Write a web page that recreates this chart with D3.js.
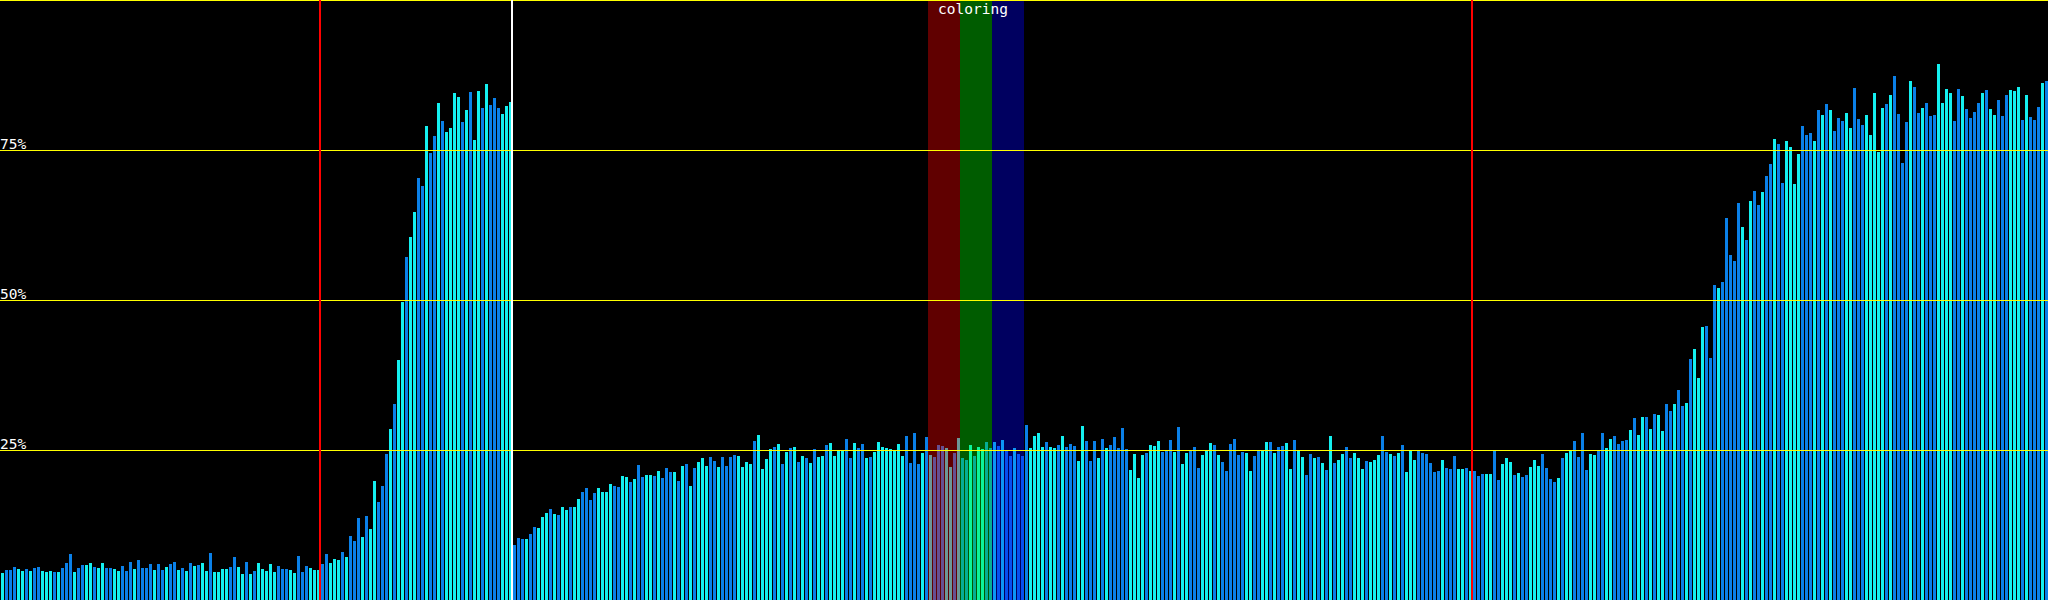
<!DOCTYPE html>
<html>
<head>
<meta charset="utf-8">
<script src="https://cdn.jsdelivr.net/npm/d3@7"></script>
<style>
html,body{margin:0;padding:0;background:#000;overflow:hidden;}
svg{display:block;}
</style>
</head>
<body>
<svg id="chart" width="2048" height="600"></svg>
<script>
// bar values (percent), one per bar, left to right
const values = [
4.5,5.0,5.0,5.5,5.2,4.8,5.2,4.8,5.3,5.5,4.8,4.7,4.8,4.7,4.7,5.3,6.2,7.7,4.7,5.3,
5.8,5.8,6.2,5.5,5.3,6.2,5.3,5.3,5.2,4.8,5.7,4.8,6.3,5.2,6.7,5.3,5.3,6.0,5.0,6.0,
5.0,5.5,6.0,6.3,5.0,5.3,4.8,6.2,5.7,5.8,6.2,4.8,7.8,4.7,4.7,5.2,5.2,5.5,7.2,5.5,
4.3,6.3,4.3,4.8,6.2,5.2,4.8,6.0,4.7,5.7,5.2,5.2,5.0,4.5,7.3,4.7,5.7,5.3,5.0,5.0,
6.0,7.7,6.2,6.8,6.7,8.0,7.2,10.7,9.8,13.7,10.5,14.0,11.8,19.9,16.4,19.0,24.4,28.5,32.7,40.0,
49.7,57.2,60.5,64.7,70.3,69.0,79.0,74.5,77.3,82.8,79.8,78.0,78.7,84.5,83.9,79.7,81.7,84.7,76.7,84.8,
82.0,86.0,82.5,83.7,82.0,81.0,82.3,83.0,
9.2,10.4,10.2,10.2,11.0,12.2,12.0,13.8,14.5,15.2,14.3,14.2,15.5,15.0,15.5,15.5,16.8,18.0,18.7,16.7,
17.8,18.7,18.0,18.0,19.3,19.0,18.8,20.7,20.5,19.7,20.2,22.5,20.5,20.8,20.8,20.7,21.5,20.3,22.0,21.3,
21.3,19.8,22.3,22.7,19.0,22.0,23.0,23.7,22.3,23.8,23.2,22.2,23.8,22.3,23.8,24.2,24.0,22.2,23.0,22.7,
26.5,27.5,21.8,23.5,25.2,25.5,26.0,22.7,24.7,25.3,25.5,23.0,24.0,23.7,22.8,25.2,23.8,24.0,25.8,26.2,
24.0,24.8,24.8,26.8,23.7,
26.2,25.3,26.0,23.7,23.8,24.7,26.3,25.5,25.3,25.2,25.0,26.0,24.0,27.3,22.8,27.8,22.7,24.5,27.2,
24.2,23.8,25.8,25.7,25.3,22.2,24.5,27.0,23.7,23.3,25.8,24.0,25.5,25.2,26.3,25.3,26.3,25.7,26.7,24.8,
24.0,25.3,24.3,24.0,29.2,25.3,27.3,27.8,25.5,26.3,25.5,25.3,25.8,27.3,25.5,26.0,25.7,23.2,29.0,26.5,
23.2,26.5,23.7,26.8,25.3,25.8,27.2,25.3,28.7,25.2,21.7,24.3,20.3,24.2,24.5,25.8,25.7,26.5,24.7,25.0,
26.7,24.7,28.8,22.7,24.5,
24.8,25.5,22.0,24.2,24.8,26.2,25.8,24.2,23.0,21.5,26.0,26.8,24.2,24.7,24.5,21.5,24.0,24.8,25.0,26.3,
26.3,24.5,25.5,25.7,26.2,21.8,26.7,24.8,23.8,20.8,24.3,23.7,23.8,22.8,21.7,27.3,22.8,23.3,24.3,25.5,
23.7,24.5,23.7,21.8,23.2,23.0,23.3,24.2,27.3,24.7,24.3,24.0,24.5,25.8,21.3,24.8,23.3,24.8,24.5,24.3,
22.8,21.3,21.5,23.3,22.0,21.8,24.0,21.8,21.8,22.0,21.5,21.5,20.7,21.0,21.0,21.0,24.8,20.0,22.7,23.7,
23.0,20.8,21.2,20.5,
20.8,22.2,23.3,22.3,24.3,22.0,20.2,19.7,20.3,23.7,24.5,24.8,26.5,23.8,27.8,21.7,24.3,24.2,24.8,27.8,
25.3,26.8,27.3,26.0,26.5,26.7,28.3,30.3,27.5,30.5,30.5,28.5,31.0,30.8,28.2,32.7,31.5,32.7,35.0,32.3,
32.8,40.2,41.8,37.0,45.5,45.7,40.3,52.5,52.0,53.0,63.7,57.5,56.5,66.2,62.2,60.0,66.5,68.2,65.8,68.0,
70.7,72.7,76.8,76.0,69.5,76.5,75.5,69.3,74.3,79.0,77.5,77.8,76.5,81.7,80.8,82.7,81.7,78.2,80.3,79.8,
81.2,78.7,85.3,80.2,79.2,80.8,77.5,84.5,74.7,82.0,82.7,84.2,87.3,81.0,72.8,79.7,86.5,85.5,81.2,82.0,
82.8,80.7,80.8,89.3,82.8,85.2,84.5,79.8,85.2,84.0,81.8,80.3,81.3,82.8,84.5,85.0,81.8,80.8,83.3,80.7,
84.2,85.0,84.8,85.5,80.0,84.2,80.5,80.0,82.2,86.2,86.5
];
// colour class of each bar: c = cyan, b = blue
const colors = [
// 0-127
"c","b","b","b","c","c","b","c","b","b","c","c","c","b","c","b","b","b","c","b",
"b","c","c","b","c","c","b","b","c","c","b","b","b","c","b","b","b","b","c","b",
"b","c","b","b","c","b","c","b","c","b","c","c","b","c","c","c","c","b","b","c",
"c","b","c","b","c","c","c","c","c","b","b","b","c","c","b","b","b","c","c","c",
"b","b","c","c","c","b","c","b","b","b","c","b","c","c","b","b","b","c","b","c",
"c","b","c","c","b","b","c","b","b","c","b","c","c","c","c","b","c","b","c","c",
"b","c","b","b","b","c","c","c",
// 128-212
"b","b","b","c","b","b","c","c","c","b","c","b","c","c","b","c","c","b","b","b",
"b","c","c","c","c","b","b","c","c","b","c","b","b","c","c","b","c","b","b","b",
"c","b","c","b","c","b","c","c","c","b","b","c","b","b","b","b","c","c","c","c",
"b","c","c","c","c","b","c","b","c","b","c","b","c","b","c","b","c","c","b","c",
"c","c","c","b","b",
// 213-296
"c","b","b","c","b","c","c","c","c","c","c","c","c","b","b","b","b","c","b",
"c","b","b","b","c","c","b","c","b","b","c","b","c","c","b","b","c","b","c","b",
"b","c","b","b","b","c","c","c","c","b","c","c","b","c","b","b","b","c","c","b",
"b","b","c","b","c","b","b","b","b","b","c","c","c","c","b","c","c","c","b","b",
"b","c","b","c","c",
// 297-380
"b","b","b","c","c","c","b","c","b","b","b","b","b","b","c","c","b","b","c","c",
"b","c","b","b","c","c","b","c","c","b","b","c","b","c","b","c","b","c","c","b",
"b","c","c","c","b","c","c","c","b","b","c","b","c","b","c","c","c","b","b","b",
"b","b","b","c","b","b","b","c","c","b","c","b","b","b","c","c","b","b","c","c",
"c","b","c","b",
// 381-511
"b","c","c","c","b","b","b","b","c","b","c","c","b","b","b","b","c","c","b","b",
"c","c","b","b","b","b","c","b","c","c","b","c","b","c","c","b","b","c","b","b",
"c","b","c","c","c","b","b","b","c","b","b","b","b","b","c","b","c","b","b","c",
"b","b","c","b","b","c","c","c","c","b","b","b","c","b","c","b","c","b","b","b",
"c","c","b","b","b","c","c","c","c","c","b","c","b","b","b","b","c","b","b","c",
"b","b","b","c","c","c","c","b","b","c","b","b","b","b","c","b","c","c","b","b",
"b","c","c","c","b","c","b","b","b","c","b"
];
const tickValues = [25, 50, 75];
const tickLabels = ["25%", "50%", "75%"];
const markerIndex = [80, 128, 368];           // vertical marker lines (bar boundaries)
const markerKind = ["red", "white", "red"];
const bandNames = ["red", "green", "blue"];    // "coloring" overlay bands
const bandStart = [232, 240, 248];
const bandLength = [8, 8, 8];
const bandTitle = "coloring";

const W = 2048, H = 600;
const svg = d3.select("#chart");
svg.append("rect").attr("width", W).attr("height", H).attr("fill", "#000");

const idx = d3.range(values.length);
const x = d3.scaleBand().domain(idx).range([0.5, W + 0.5]).paddingInner(0.25).paddingOuter(0.125);
const y = d3.scaleLinear().domain([0, 100]).range([H, 0]);
const step = x.step();
const edge = i => (i < values.length ? x(i) : x(values.length - 1) + step) - 1; // left boundary of bar i

const fill = {c: "#14f0f0", b: "#0a80e8"};

svg.append("g").attr("shape-rendering", "crispEdges")
  .selectAll("rect").data(idx).join("rect")
  .attr("x", i => x(i))
  .attr("width", x.bandwidth())
  .attr("y", i => Math.round(y(values[i])))
  .attr("height", i => H - Math.round(y(values[i])))
  .attr("fill", i => fill[colors[i]] || fill.b);

// colouring bands (translucent overlays)
const bandFill = {red: "rgba(255,0,0,0.376)", green: "rgba(0,255,0,0.36)", blue: "rgba(0,0,255,0.376)"};
svg.append("g").attr("shape-rendering", "crispEdges")
  .selectAll("rect").data(bandNames).join("rect")
  .attr("x", (d, k) => edge(bandStart[k]))
  .attr("width", (d, k) => edge(bandStart[k] + bandLength[k]) - edge(bandStart[k]))
  .attr("y", 0).attr("height", H)
  .attr("fill", d => bandFill[d]);

// gridlines (top border at 100% plus ticks)
const grid = svg.append("g").attr("shape-rendering", "crispEdges");
grid.selectAll("line").data([100].concat(tickValues)).join("line")
  .attr("x1", 0).attr("x2", W)
  .attr("y1", d => Math.floor(y(d)) + 0.5).attr("y2", d => Math.floor(y(d)) + 0.5)
  .attr("stroke", "#ffff00").attr("stroke-width", 1);

// markers
const markColor = {red: "#ff0000", white: "#ffffff"};
svg.append("g").attr("shape-rendering", "crispEdges")
  .selectAll("line").data(markerIndex).join("line")
  .attr("x1", d => edge(d)).attr("x2", d => edge(d))
  .attr("y1", 0).attr("y2", H)
  .attr("stroke", (d, k) => markColor[markerKind[k]]).attr("stroke-width", 2);

// tick labels
svg.append("g").selectAll("text").data(tickValues).join("text")
  .attr("x", 0).attr("y", d => y(d) - 1)
  .attr("fill", "#fff")
  .attr("font-family", "DejaVu Sans Mono, monospace")
  .attr("font-size", 14.5)
  .text((d, k) => tickLabels[k]);

// band title
const bx0 = edge(bandStart[0]), bx1 = edge(bandStart[2] + bandLength[2]);
svg.append("text")
  .attr("x", (bx0 + bx1) / 2 - 3).attr("y", 14)
  .attr("text-anchor", "middle")
  .attr("fill", "#fff")
  .attr("font-family", "DejaVu Sans Mono, monospace")
  .attr("font-size", 14.5)
  .text(bandTitle);
</script>
</body>
</html>
